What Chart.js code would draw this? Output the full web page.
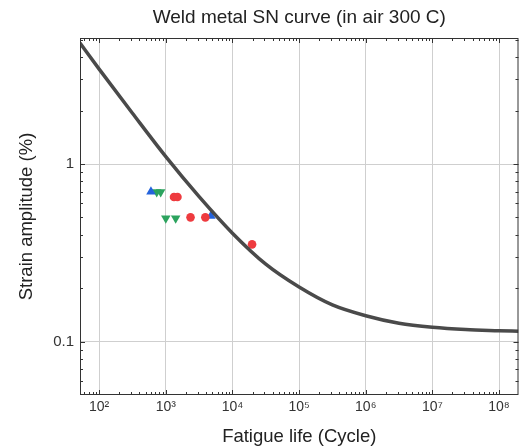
<!DOCTYPE html>
<html>
<head>
<meta charset="utf-8">
<script src="https://cdn.jsdelivr.net/npm/chart.js@4"></script>
<style>
  html, body { margin: 0; padding: 0; background: #fff; overflow: hidden; width: 520px; height: 448px; }
  #wrap { width: 524px; height: 448px; }
</style>
</head>
<body>
<div id="wrap"><canvas id="snChart" width="524" height="448"></canvas></div>
<script>
// curve (cycles, strain %)
const curveLife   = [51.6, 100, 316, 1000, 3162, 10000, 31623, 1e5, 3.16e5, 1e6, 3.16e6, 1e7, 3.16e7, 1e8, 1.96e8];
const curveStrain = [4.80, 3.42, 1.93, 1.10, 0.655, 0.408, 0.273, 0.203, 0.161, 0.140, 0.127, 0.1205, 0.117, 0.1153, 0.1144];

// test data
const redLife     = [1327, 1497, 2350, 3920, 19700];
const redStrain   = [0.652, 0.652, 0.501, 0.501, 0.353];
const blueLife    = [599, 4750];
const blueStrain  = [0.698, 0.510];
const greenLife   = [731, 838, 1000, 1407];
const greenStrain = [0.696, 0.696, 0.495, 0.495];

const xDecades = [1e2, 1e3, 1e4, 1e5, 1e6, 1e7, 1e8];
const yDecades = [0.1, 1];
const sup = {2: '²', 3: '³', 4: '⁴', 5: '⁵', 6: '⁶', 7: '⁷', 8: '⁸'};

const FONT = '"Liberation Sans", Arial, sans-serif';
const toPoints = (xs, ys) => xs.map((x, i) => ({ x: x, y: ys[i] }));

// frame + inward major/minor ticks like the original plot
const frameTicks = {
    id: 'frameTicks',
    afterDraw(chart) {
        const { ctx, chartArea: a, scales } = chart;
        const xs = scales.x, ys = scales.y;
        ctx.save();
        ctx.strokeStyle = '#333';
        ctx.lineWidth = 1;
        ctx.strokeRect(a.left + 0.5, a.top + 0.5, a.right - a.left - 1, a.bottom - a.top - 1);

        ctx.beginPath();
        for (let e = 1; e <= 8; e++) {
            for (let m = 1; m <= 9; m++) {
                const v = m * Math.pow(10, e);
                if (v < xs.min || v > xs.max) continue;
                const px = Math.round(xs.getPixelForValue(v)) + 0.5;
                const len = m === 1 ? 5 : 3;
                ctx.moveTo(px, a.bottom); ctx.lineTo(px, a.bottom - len);
                ctx.moveTo(px, a.top); ctx.lineTo(px, a.top + len);
            }
        }
        for (let e = -2; e <= 0; e++) {
            for (let m = 1; m <= 9; m++) {
                const v = m * Math.pow(10, e);
                if (v < ys.min || v > ys.max) continue;
                const py = Math.round(ys.getPixelForValue(v)) + 0.5;
                const len = m === 1 ? 5 : 3;
                ctx.moveTo(a.left, py); ctx.lineTo(a.left + len, py);
                ctx.moveTo(a.right, py); ctx.lineTo(a.right - len, py);
            }
        }
        ctx.stroke();
        ctx.restore();
    }
};

new Chart(document.getElementById('snChart'), {
    type: 'scatter',
    data: {
        datasets: [
            {
                label: 'SN curve',
                data: toPoints(curveLife, curveStrain),
                showLine: true,
                borderColor: '#4a4a4a',
                borderWidth: 3.5,
                pointRadius: 0,
                cubicInterpolationMode: 'monotone'
            },
            {
                label: 'red',
                data: toPoints(redLife, redStrain),
                backgroundColor: '#ee3b3f',
                borderWidth: 0,
                pointStyle: 'circle',
                pointRadius: 4.3
            },
            {
                label: 'blue',
                data: toPoints(blueLife, blueStrain),
                backgroundColor: '#2463dc',
                borderWidth: 0,
                pointStyle: 'triangle',
                pointRadius: 5.5
            },
            {
                label: 'green',
                data: toPoints(greenLife, greenStrain),
                backgroundColor: '#2ca35e',
                borderWidth: 0,
                pointStyle: 'triangle',
                rotation: 180,
                pointRadius: 5.5
            }
        ]
    },
    options: {
        responsive: false,
        devicePixelRatio: 1,
        animation: false,
        layout: { padding: { left: 0, right: 2, top: 0, bottom: 0 } },
        plugins: {
            legend: { display: false },
            tooltip: { enabled: false },
            title: {
                display: true,
                text: 'Weld metal SN curve (in air 300 C)',
                fullSize: false,
                color: '#222',
                font: { family: FONT, size: 19, weight: 'normal' },
                padding: { top: 6.6, bottom: 8.6 }
            }
        },
        scales: {
            x: {
                type: 'logarithmic',
                min: 51.6,
                max: 1.96e8,
                afterBuildTicks: s => { s.ticks = xDecades.map(v => ({ value: v })); },
                afterFit: s => { s.height = 53; },
                ticks: {
                    callback: v => '10' + sup[Math.round(Math.log10(v))],
                    color: '#333',
                    padding: 4,
                    maxRotation: 0,
                    autoSkip: false,
                    font: { family: FONT, size: 14 }
                },
                grid: { color: '#cfcfcf', drawTicks: false },
                border: { display: false },
                title: {
                    display: true,
                    text: 'Fatigue life (Cycle)',
                    color: '#222',
                    padding: 0,
                    font: { family: FONT, size: 18.5 }
                }
            },
            y: {
                type: 'logarithmic',
                min: 0.0501,
                max: 5.12,
                afterBuildTicks: s => { s.ticks = yDecades.map(v => ({ value: v })); },
                afterFit: s => { s.width = 80; },
                ticks: {
                    callback: v => (v === 1 ? '1' : '0.1'),
                    color: '#333',
                    padding: 6,
                    autoSkip: false,
                    font: { family: FONT, size: 15 }
                },
                grid: { color: '#cfcfcf', drawTicks: false },
                border: { display: false },
                title: {
                    display: true,
                    text: 'Strain amplitude (%)',
                    color: '#222',
                    padding: 16,
                    font: { family: FONT, size: 18.5 }
                }
            }
        }
    },
    plugins: [frameTicks]
});
</script>
</body>
</html>
